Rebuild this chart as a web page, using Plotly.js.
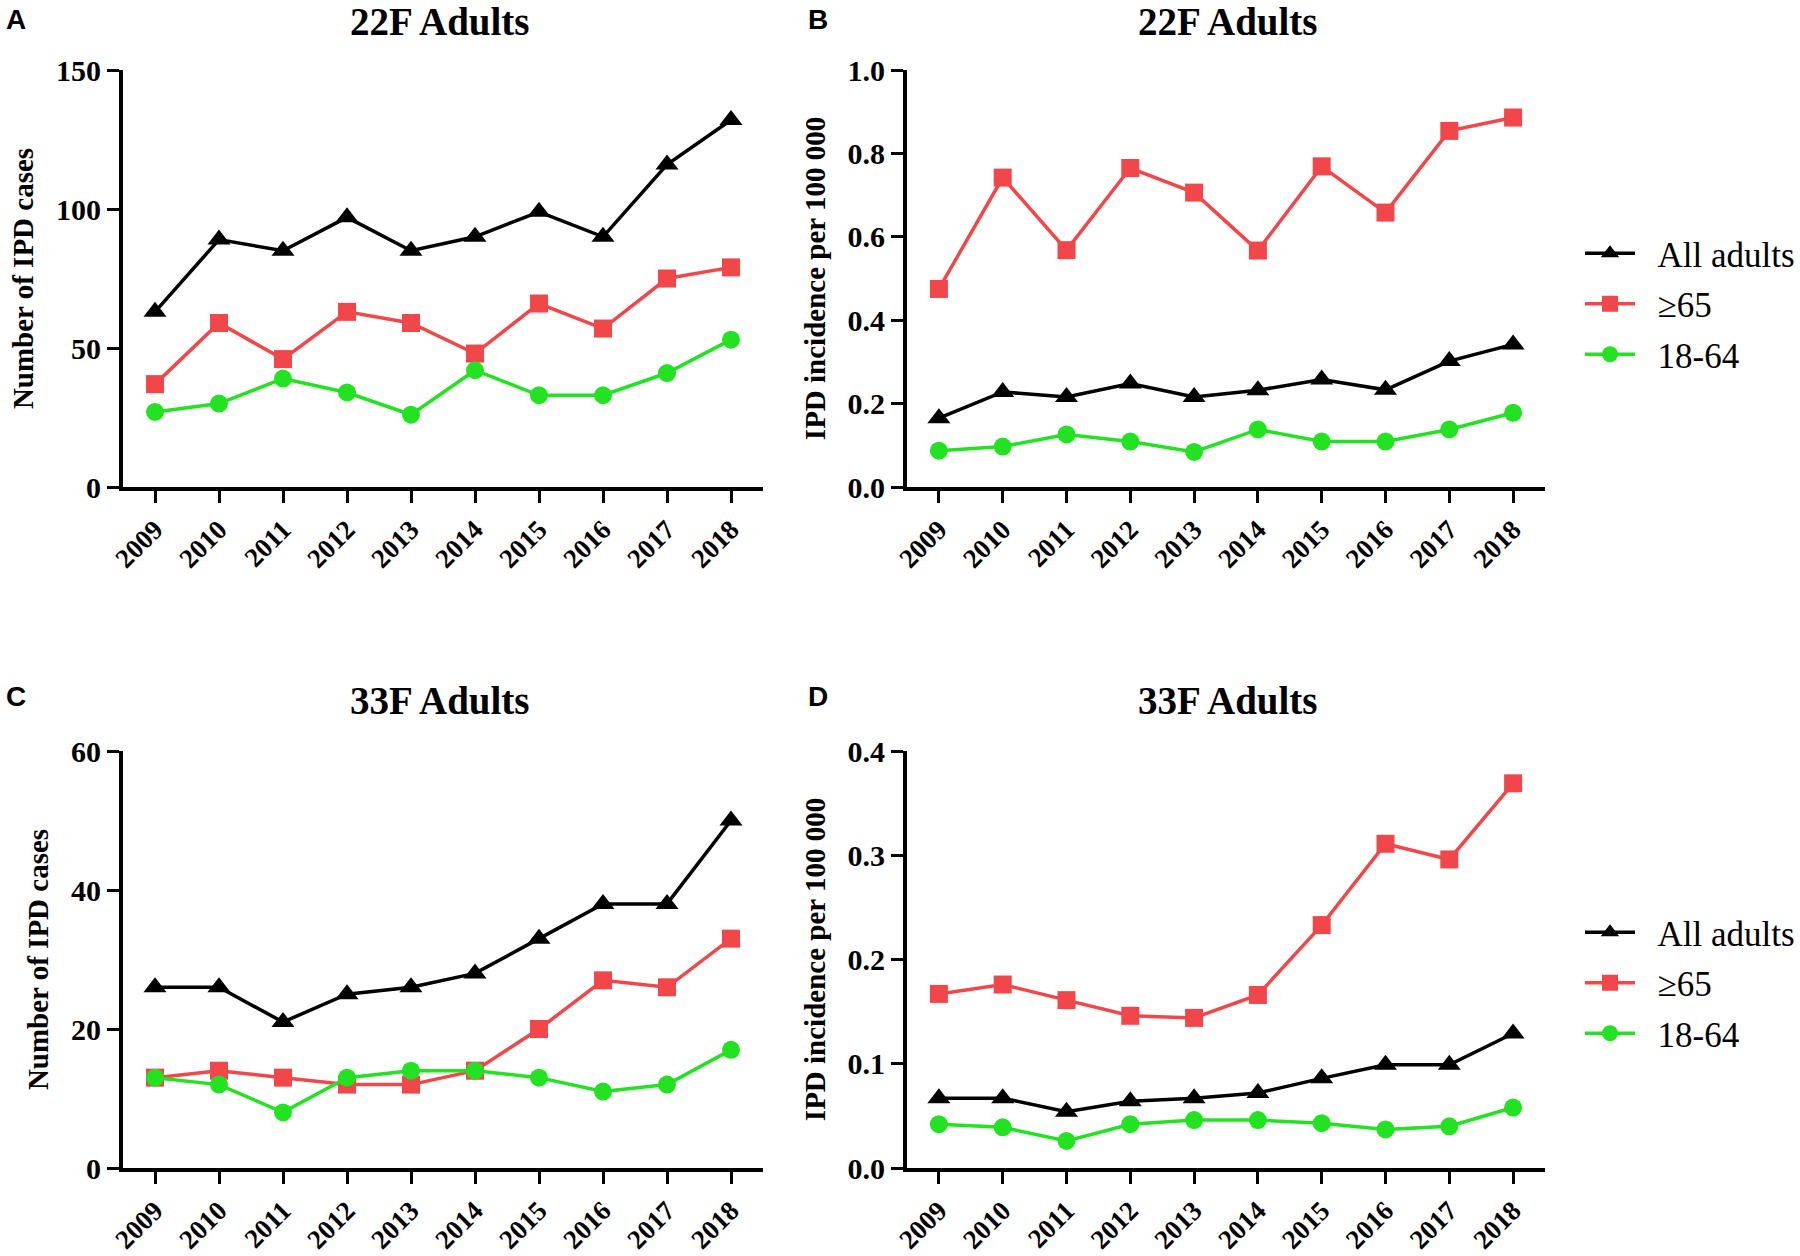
<!DOCTYPE html>
<html>
<head>
<meta charset="utf-8">
<script src="https://cdn.plot.ly/plotly-3.0.1.min.js"></script>
<style>html,body{margin:0;padding:0;background:#fff;}#chart{width:1800px;height:1256px;}</style>
</head>
<body>
<div id="chart"></div>
<script>
const years = [2009, 2010, 2011, 2012, 2013, 2014, 2015, 2016, 2017, 2018];
const seriesNames = ['All adults', '\u226565', '18-64'];

// Panel A: 22F number of IPD cases
const casesAll22F = [63, 89, 85, 97, 85, 90, 99, 90, 116, 132];
const cases65_22F = [37, 59, 46, 63, 59, 48, 66, 57, 75, 79];
const cases1864_22F = [27, 30, 39, 34, 26, 42, 33, 33, 41, 53];

// Panel B: 22F incidence per 100 000
const incAll22F = [0.165, 0.228, 0.216, 0.248, 0.216, 0.232, 0.258, 0.233, 0.302, 0.342];
const inc65_22F = [0.475, 0.742, 0.568, 0.765, 0.706, 0.567, 0.769, 0.658, 0.854, 0.886];
const inc1864_22F = [0.087, 0.097, 0.126, 0.109, 0.084, 0.138, 0.109, 0.109, 0.138, 0.178];

// Panel C: 33F number of IPD cases
const casesAll33F = [26, 26, 21, 25, 26, 28, 33, 38, 38, 50];
const cases65_33F = [13, 14, 13, 12, 12, 14, 20, 27, 26, 33];
const cases1864_33F = [13, 12, 8, 13, 14, 14, 13, 11, 12, 17];

// Panel D: 33F incidence per 100 000
const incAll33F = [0.067, 0.067, 0.054, 0.064, 0.067, 0.072, 0.086, 0.099, 0.099, 0.129];
const inc65_33F = [0.167, 0.176, 0.161, 0.146, 0.144, 0.166, 0.233, 0.311, 0.296, 0.369];
const inc1864_33F = [0.042, 0.039, 0.026, 0.042, 0.046, 0.046, 0.043, 0.037, 0.040, 0.058];

const panelTitles = ['22F Adults', '22F Adults', '33F Adults', '33F Adults'];
const panelLetters = ['A', 'B', 'C', 'D'];
const yTitleCases = 'Number of IPD cases';
const yTitleInc = 'IPD incidence per 100 000';

const colors = ['#000000', '#F2474A', '#22E222'];
const symbols = ['triangle-up', 'square', 'circle'];
const msizes = [20, 18, 18];

const serif = 'Liberation Serif, Times New Roman, serif';
const pad = '\u00a0\u00a0';

function mk(y, idx, xa, ya, leg) {
  return {
    x: years, y: y, type: 'scatter', mode: 'lines+markers',
    name: pad + seriesNames[idx], xaxis: xa, yaxis: ya,
    line: {color: colors[idx], width: 3.5},
    marker: {color: colors[idx], symbol: symbols[idx], size: msizes[idx]},
    showlegend: !!leg, legend: leg || 'legend', legendgroup: (leg || 'l') + idx,
    hoverinfo: 'x+y'
  };
}

const data = [
  mk(casesAll22F, 0, 'x', 'y'), mk(cases65_22F, 1, 'x', 'y'), mk(cases1864_22F, 2, 'x', 'y'),
  mk(incAll22F, 0, 'x2', 'y2', 'legend'), mk(inc65_22F, 1, 'x2', 'y2', 'legend'), mk(inc1864_22F, 2, 'x2', 'y2', 'legend'),
  mk(casesAll33F, 0, 'x3', 'y3'), mk(cases65_33F, 1, 'x3', 'y3'), mk(cases1864_33F, 2, 'x3', 'y3'),
  mk(incAll33F, 0, 'x4', 'y4', 'legend2'), mk(inc65_33F, 1, 'x4', 'y4', 'legend2'), mk(inc1864_33F, 2, 'x4', 'y4', 'legend2')
];

const W = 1800, H = 1256;
const colX = [[123 / W, 763 / W], [907 / W, 1545 / W]];
const rowY = [[1 - 487 / H, 1 - 70 / H], [1 - 1168 / H, 1 - 751 / H]];

const yTickFont = {family: serif, size: 30, color: '#000', weight: 700};
const xTickFont = {family: serif, size: 27, color: '#000', weight: 700};

function xax(dom, anchor) {
  return {
    domain: dom, anchor: anchor, range: [2008.5, 2018.5],
    tickmode: 'array', tickvals: years, ticktext: years.map(String),
    tickangle: -45, ticks: 'outside', ticklen: 12, tickwidth: 3, tickcolor: '#000',
    showline: true, linewidth: 4, linecolor: '#000', showgrid: false, zeroline: false,
    tickfont: xTickFont, fixedrange: true
  };
}
function yax(dom, anchor, range, dtick, fmt, title, standoff) {
  return {
    domain: dom, anchor: anchor, range: range, dtick: dtick, tick0: 0, tickformat: fmt,
    ticks: 'outside', ticklen: 12, tickwidth: 3, tickcolor: '#000',
    showline: true, linewidth: 4, linecolor: '#000', showgrid: false, zeroline: false,
    tickfont: yTickFont, fixedrange: true,
    title: {text: title, font: {family: serif, size: 29, color: '#000', weight: 700}, standoff: standoff}
  };
}

const ann = [];
const titleCenters = [[440, 21], [1228, 21], [440, 700], [1228, 700]];
const letterPos = [[4, 20], [806, 20], [4, 696], [806, 696]];
for (let i = 0; i < 4; i++) {
  ann.push({
    text: panelTitles[i], xref: 'paper', yref: 'paper',
    x: titleCenters[i][0] / W, y: 1 - titleCenters[i][1] / H, xanchor: 'center', yanchor: 'middle',
    showarrow: false, font: {family: serif, size: 39, color: '#000', weight: 700}
  });
  ann.push({
    text: panelLetters[i], xref: 'paper', yref: 'paper',
    x: letterPos[i][0] / W, y: 1 - letterPos[i][1] / H, xanchor: 'left', yanchor: 'middle',
    showarrow: false, font: {family: 'Liberation Sans, Arial, sans-serif', size: 28, color: '#000', weight: 700}
  });
}

const legFont = {family: serif, size: 35, color: '#000'};
const layout = {
  width: W, height: H, margin: {l: 0, r: 0, t: 0, b: 0},
  paper_bgcolor: '#fff', plot_bgcolor: '#fff', showlegend: true,
  xaxis: xax(colX[0], 'y'), yaxis: yax(rowY[0], 'x', [0, 150], 50, 'd', yTitleCases, 15),
  xaxis2: xax(colX[1], 'y2'), yaxis2: yax(rowY[0], 'x2', [0, 1.0], 0.2, '.1f', yTitleInc, 14),
  xaxis3: xax(colX[0], 'y3'), yaxis3: yax(rowY[1], 'x3', [0, 60], 20, 'd', yTitleCases, 15),
  xaxis4: xax(colX[1], 'y4'), yaxis4: yax(rowY[1], 'x4', [0, 0.4], 0.1, '.1f', yTitleInc, 14),
  legend: {x: 1580 / W, y: 1 - 224 / H, xanchor: 'left', yanchor: 'top', font: legFont,
           bgcolor: 'rgba(0,0,0,0)', tracegroupgap: 2, itemwidth: 50},
  legend2: {x: 1580 / W, y: 1 - 903 / H, xanchor: 'left', yanchor: 'top', font: legFont,
            bgcolor: 'rgba(0,0,0,0)', tracegroupgap: 2, itemwidth: 50},
  annotations: ann
};

Plotly.newPlot('chart', data, layout, {displayModeBar: false, staticPlot: true});
</script>
</body>
</html>
